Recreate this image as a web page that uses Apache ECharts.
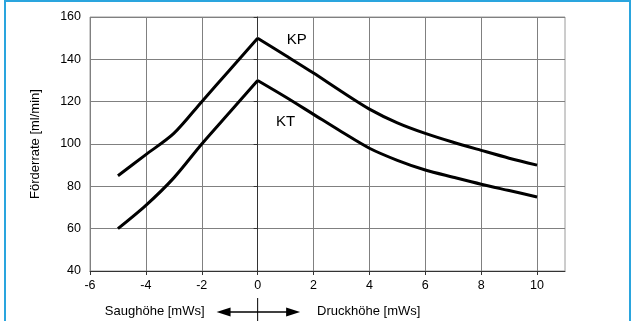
<!DOCTYPE html>
<html>
<head>
<meta charset="utf-8">
<script src="https://cdn.jsdelivr.net/npm/echarts@6/dist/echarts.min.js"></script>
<style>
html, body { margin: 0; padding: 0; background: #fff; }
#chart { width: 637px; height: 321px; }
</style>
</head>
<body>
<div id="chart"></div>
<script>
// Förderrate über Saug-/Druckhöhe
var hoehe = [-5, -4, -3, -2, -1, 0, 1, 2, 3, 4, 5, 6, 7, 8, 9, 10];
var kp = [85, 95, 105, 120, 135, 150, 141.8, 133.5, 124.8, 116.5, 110, 105, 100.8, 97, 93.3, 90];
var kt = [60, 71, 84, 100, 115, 130, 122.2, 114, 105.8, 98, 92.3, 87.7, 84.3, 81, 78, 75];
var xTicks = [-6, -4, -2, 0, 2, 4, 6, 8, 10];
var kurvenNamen = ['KP', 'KT'];
var namenPos = [[1.4, 149], [1.0, 110.5]];

var font = 'Liberation Sans, Arial, sans-serif';
var chart = echarts.init(document.getElementById('chart'));

// Kurve am Scheitel (x=0) teilen, damit die Spitze scharf bleibt
function teil(werte, von, bis) {
  var out = [];
  for (var i = 0; i < hoehe.length; i++) {
    if (hoehe[i] >= von && hoehe[i] <= bis) out.push([hoehe[i], werte[i]]);
  }
  return out;
}
function kurve(werte) {
  var stil = { color: '#000', width: 3 };
  return [
    { type: 'line', data: teil(werte, -5, 0), smooth: 0.3, symbol: 'none', lineStyle: stil, z: 5 },
    { type: 'line', data: teil(werte, 0, 10), smooth: 0.3, symbol: 'none', lineStyle: stil, z: 5 }
  ];
}

chart.setOption({
  animation: false,
  grid: {
    left: 90, right: 72, top: 17, bottom: 50,
    show: true, borderColor: '#9a9a9a', borderWidth: 1
  },
  xAxis: {
    type: 'value', min: -6, max: 11, interval: 2,
    axisLine: { show: true, onZero: false, lineStyle: { color: '#333', width: 1 } },
    axisTick: { show: true, length: 4, customValues: xTicks, lineStyle: { color: '#333' } },
    axisLabel: {
      customValues: xTicks, color: '#000', fontSize: 12.5, fontFamily: font, margin: 8,
      formatter: function (v) { return v > 10 ? '' : String(v); }
    },
    splitLine: { show: true, lineStyle: { color: '#808080', width: 1 } }
  },
  yAxis: {
    type: 'value', min: 40, max: 160, interval: 20,
    name: 'Förderrate [ml/min]', nameLocation: 'middle', nameGap: 48,
    nameTextStyle: { color: '#000', fontSize: 13, fontFamily: font },
    axisLine: { show: true, lineStyle: { color: '#333', width: 1 } },
    axisTick: { show: true, length: 4, lineStyle: { color: '#333' } },
    axisLabel: { color: '#000', fontSize: 12.5, fontFamily: font, margin: 9 },
    splitLine: { show: true, lineStyle: { color: '#808080', width: 1 } }
  },
  series: kurve(kp).concat(kurve(kt))
});

// Beschriftungen und Pfeil unter der Achse
var g = [];
g.push({
  type: 'rect', shape: { x: 5, y: 1, width: 625, height: 340 },
  style: { fill: 'none', stroke: '#2aa5de', lineWidth: 2 }, z: 10
});
kurvenNamen.forEach(function (n, i) {
  var p = chart.convertToPixel({ gridIndex: 0 }, namenPos[i]);
  g.push({
    type: 'text', x: p[0], y: p[1],
    style: { text: n, fill: '#000', font: '15px ' + font, textAlign: 'center', textVerticalAlign: 'middle' },
    z: 10
  });
});
var null0 = chart.convertToPixel({ gridIndex: 0 }, [0, 40]);
var links = chart.convertToPixel({ gridIndex: 0 }, [-1.47, 40]);
var rechts = chart.convertToPixel({ gridIndex: 0 }, [1.52, 40]);
var ay = 312;
g.push({ type: 'line', shape: { x1: links[0] + 6, y1: ay, x2: rechts[0] - 6, y2: ay },
  style: { stroke: '#000', lineWidth: 1.5 }, z: 10 });
g.push({ type: 'polygon', shape: { points: [[links[0], ay], [links[0] + 14, ay - 4.5], [links[0] + 14, ay + 4.5]] },
  style: { fill: '#000' }, z: 10 });
g.push({ type: 'polygon', shape: { points: [[rechts[0], ay], [rechts[0] - 14, ay - 4.5], [rechts[0] - 14, ay + 4.5]] },
  style: { fill: '#000' }, z: 10 });
g.push({ type: 'line', shape: { x1: null0[0], y1: 298, x2: null0[0], y2: 321 },
  style: { stroke: '#000', lineWidth: 1 }, z: 10 });
g.push({ type: 'text', x: links[0] - 12, y: ay - 1,
  style: { text: 'Saughöhe [mWs]', fill: '#000', font: '13px ' + font, textAlign: 'right', textVerticalAlign: 'middle' }, z: 10 });
g.push({ type: 'text', x: rechts[0] + 17, y: ay - 1,
  style: { text: 'Druckhöhe [mWs]', fill: '#000', font: '13px ' + font, textAlign: 'left', textVerticalAlign: 'middle' }, z: 10 });

chart.setOption({ graphic: g });
</script>
</body>
</html>
